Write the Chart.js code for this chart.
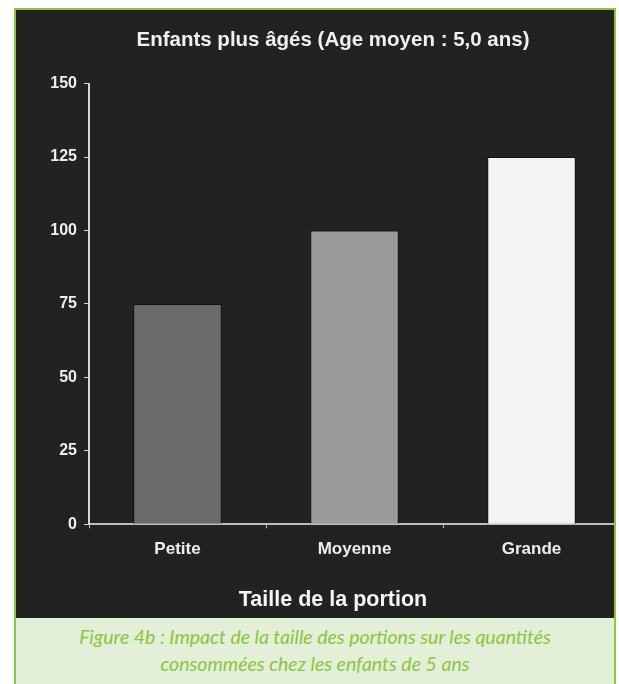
<!DOCTYPE html>
<html>
<head>
<meta charset="utf-8">
<script src="https://cdn.jsdelivr.net/npm/chart.js@4/dist/chart.umd.min.js"></script>
<style>
body{margin:0;background:#fff;}
#frame{position:absolute;left:14px;top:8px;width:598px;height:700px;border:2px solid #8dc63f;overflow:hidden;background:#e4efd7;}
#plot{position:relative;width:598px;height:608px;background:#222222;overflow:hidden;}
#chart{position:absolute;left:0;top:0;}
#caption{font-family:"Lato",sans-serif;font-style:italic;font-size:19.5px;line-height:27px;color:#8cc43f;text-align:center;padding-top:5px;}
</style>
</head>
<body>
<div id="frame">
  <div id="plot"><canvas id="chart" width="620" height="608"></canvas></div>
  <div id="caption">Figure 4b : Impact de la taille des portions sur les quantités<br>consommées chez les enfants de 5 ans</div>
</div>
<script>
const categories=["Petite","Moyenne","Grande"]
const values=[75,100,125]
const yTicks=[0,25,50,75,100,125,150]
const barColors=["#6a6a6a","#9b9b9b","#f3f3f3"]

const fontFam='"Liberation Sans", Arial, sans-serif'

var ctx=document.getElementById('chart').getContext('2d');
var myChart=new Chart(ctx,{
    type:'bar',
    data:{
        labels:categories,
        datasets:[{
            data:values,
            backgroundColor:barColors,
            borderColor:'#111111',
            borderWidth:1,
            barPercentage:1,
            categoryPercentage:0.5
        }]
    },
    options:{
        responsive:false,
        animation:false,
        layout:{padding:{left:30,right:16,top:0,bottom:0}},
        plugins:{
            legend:{display:false},
            tooltip:{enabled:false},
            title:{
                display:true,
                text:'Enfants plus âgés (Age moyen : 5,0 ans)',
                color:'#f0f0f0',
                font:{family:fontFam,size:20.5,weight:'bold'},
                padding:{top:18,bottom:31}
            },
            subtitle:{
                display:true,
                position:'bottom',
                text:'Taille de la portion',
                color:'#f5f5f5',
                font:{family:fontFam,size:21.5,weight:'bold'},
                padding:{top:23,bottom:5}
            }
        },
        scales:{
            x:{
                afterFit:s=>{s.height=40},
                grid:{display:true,drawOnChartArea:false,drawTicks:true,tickLength:4,color:'#bdbdbd',lineWidth:1},
                border:{display:true,color:'#bdbdbd',width:2},
                ticks:{color:'#eeeeee',padding:11,font:{family:fontFam,size:17,weight:'bold'}}
            },
            y:{
                min:0,
                max:150,
                afterFit:s=>{s.width=43},
                afterBuildTicks:s=>{s.ticks=yTicks.map(v=>({value:v}))},
                grid:{display:true,drawOnChartArea:false,drawTicks:true,tickLength:5,color:'#d5d5d5',lineWidth:1},
                border:{display:true,color:'#d5d5d5',width:2},
                ticks:{color:'#eeeeee',padding:7,font:{family:fontFam,size:16,weight:'bold'}}
            }
        }
    }
});
</script>
</body>
</html>
